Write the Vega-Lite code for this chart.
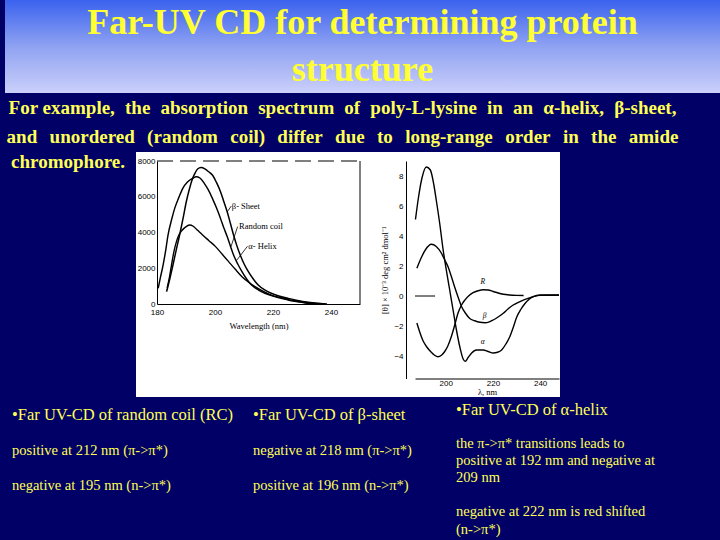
{
  "$schema": "https://vega.github.io/schema/vega-lite/v6.json",
  "background": "#000066",
  "padding": {"left": 5, "top": 0, "right": 0, "bottom": 6},
  "spacing": 0,
  "bounds": "full",
  "config": {
    "view": {"stroke": null},
    "axis": {"grid": false, "domainColor": "black", "domainWidth": 1, "tickColor": "black", "labelColor": "black", "titleColor": "black", "labelFont": "Liberation Sans", "titleFont": "Liberation Serif", "titleFontWeight": "normal", "labelFontSize": 8, "titleFontSize": 8.5, "labelFlush": false, "labelOverlap": false}
  },
  "datasets": {
    "abs": [
      {"s": "Random coil", "wl": 180.4, "v": 880}, {"s": "Random coil", "wl": 181.2, "v": 1500}, {"s": "Random coil", "wl": 182.1, "v": 2180}, {"s": "Random coil", "wl": 183.0, "v": 3000}, {"s": "Random coil", "wl": 183.8, "v": 3860}, {"s": "Random coil", "wl": 185.0, "v": 4700}, {"s": "Random coil", "wl": 186.1, "v": 5350}, {"s": "Random coil", "wl": 187.5, "v": 5950}, {"s": "Random coil", "wl": 188.9, "v": 6470}, {"s": "Random coil", "wl": 190.5, "v": 6820}, {"s": "Random coil", "wl": 192.3, "v": 7030}, {"s": "Random coil", "wl": 193.5, "v": 7120}, {"s": "Random coil", "wl": 194.8, "v": 7050}, {"s": "Random coil", "wl": 196.3, "v": 6750}, {"s": "Random coil", "wl": 197.7, "v": 6380}, {"s": "Random coil", "wl": 199.1, "v": 5910}, {"s": "Random coil", "wl": 200.5, "v": 5380}, {"s": "Random coil", "wl": 201.9, "v": 4790}, {"s": "Random coil", "wl": 203.0, "v": 4280}, {"s": "Random coil", "wl": 204.2, "v": 3770}, {"s": "Random coil", "wl": 205.3, "v": 3250}, {"s": "Random coil", "wl": 206.4, "v": 2740}, {"s": "Random coil", "wl": 207.8, "v": 2250}, {"s": "Random coil", "wl": 209.3, "v": 1810}, {"s": "Random coil", "wl": 210.9, "v": 1400}, {"s": "Random coil", "wl": 212.6, "v": 1060}, {"s": "Random coil", "wl": 215.0, "v": 780}, {"s": "Random coil", "wl": 217.2, "v": 600}, {"s": "Random coil", "wl": 220.0, "v": 440}, {"s": "Random coil", "wl": 222.8, "v": 320}, {"s": "Random coil", "wl": 225.5, "v": 210}, {"s": "Random coil", "wl": 228.5, "v": 130}, {"s": "Random coil", "wl": 231.0, "v": 60}, {"s": "Random coil", "wl": 234.0, "v": 10}, {"s": "Random coil", "wl": 237.0, "v": 0},
      {"s": "β-Sheet", "wl": 183.3, "v": 690}, {"s": "β-Sheet", "wl": 184.4, "v": 1400}, {"s": "β-Sheet", "wl": 185.5, "v": 2180}, {"s": "β-Sheet", "wl": 186.6, "v": 3000}, {"s": "β-Sheet", "wl": 187.8, "v": 3860}, {"s": "β-Sheet", "wl": 189.0, "v": 4800}, {"s": "β-Sheet", "wl": 190.1, "v": 5720}, {"s": "β-Sheet", "wl": 191.2, "v": 6450}, {"s": "β-Sheet", "wl": 192.3, "v": 7030}, {"s": "β-Sheet", "wl": 193.2, "v": 7350}, {"s": "β-Sheet", "wl": 194.0, "v": 7550}, {"s": "β-Sheet", "wl": 195.2, "v": 7630}, {"s": "β-Sheet", "wl": 196.5, "v": 7560}, {"s": "β-Sheet", "wl": 197.8, "v": 7400}, {"s": "β-Sheet", "wl": 199.1, "v": 7220}, {"s": "β-Sheet", "wl": 200.5, "v": 6800}, {"s": "β-Sheet", "wl": 201.9, "v": 6280}, {"s": "β-Sheet", "wl": 203.0, "v": 5750}, {"s": "β-Sheet", "wl": 204.2, "v": 5160}, {"s": "β-Sheet", "wl": 205.3, "v": 4520}, {"s": "β-Sheet", "wl": 206.4, "v": 3860}, {"s": "β-Sheet", "wl": 207.5, "v": 3280}, {"s": "β-Sheet", "wl": 208.7, "v": 2740}, {"s": "β-Sheet", "wl": 210.0, "v": 2250}, {"s": "β-Sheet", "wl": 211.5, "v": 1810}, {"s": "β-Sheet", "wl": 213.2, "v": 1400}, {"s": "β-Sheet", "wl": 214.9, "v": 1060}, {"s": "β-Sheet", "wl": 217.0, "v": 800}, {"s": "β-Sheet", "wl": 219.4, "v": 600}, {"s": "β-Sheet", "wl": 222.0, "v": 450}, {"s": "β-Sheet", "wl": 225.1, "v": 320}, {"s": "β-Sheet", "wl": 228.0, "v": 210}, {"s": "β-Sheet", "wl": 230.7, "v": 130}, {"s": "β-Sheet", "wl": 234.5, "v": 60}, {"s": "β-Sheet", "wl": 238.6, "v": 0},
      {"s": "α-Helix", "wl": 183.5, "v": 900}, {"s": "α-Helix", "wl": 184.3, "v": 1500}, {"s": "α-Helix", "wl": 185.0, "v": 2180}, {"s": "α-Helix", "wl": 185.8, "v": 2900}, {"s": "α-Helix", "wl": 186.7, "v": 3490}, {"s": "α-Helix", "wl": 187.5, "v": 3850}, {"s": "α-Helix", "wl": 188.4, "v": 4080}, {"s": "α-Helix", "wl": 189.3, "v": 4230}, {"s": "α-Helix", "wl": 190.1, "v": 4330}, {"s": "α-Helix", "wl": 191.2, "v": 4420}, {"s": "α-Helix", "wl": 192.5, "v": 4350}, {"s": "α-Helix", "wl": 194.0, "v": 4120}, {"s": "α-Helix", "wl": 195.7, "v": 3860}, {"s": "α-Helix", "wl": 198.0, "v": 3530}, {"s": "α-Helix", "wl": 200.2, "v": 3210}, {"s": "α-Helix", "wl": 202.5, "v": 2780}, {"s": "α-Helix", "wl": 204.7, "v": 2370}, {"s": "α-Helix", "wl": 207.0, "v": 1940}, {"s": "α-Helix", "wl": 209.3, "v": 1530}, {"s": "α-Helix", "wl": 211.5, "v": 1230}, {"s": "α-Helix", "wl": 213.8, "v": 970}, {"s": "α-Helix", "wl": 216.5, "v": 720}, {"s": "α-Helix", "wl": 219.4, "v": 500}, {"s": "α-Helix", "wl": 222.8, "v": 350}, {"s": "α-Helix", "wl": 226.2, "v": 220}, {"s": "α-Helix", "wl": 230.0, "v": 110}, {"s": "α-Helix", "wl": 234.1, "v": 40}, {"s": "α-Helix", "wl": 238.0, "v": 0}
    ],
    "cd": [
      {"s": "α", "wl": 187.2, "th": 5.1}, {"s": "α", "wl": 188.5, "th": 6.6}, {"s": "α", "wl": 190.0, "th": 7.9}, {"s": "α", "wl": 191.8, "th": 8.6}, {"s": "α", "wl": 193.5, "th": 8.4}, {"s": "α", "wl": 195.0, "th": 7.4}, {"s": "α", "wl": 196.0, "th": 6.4}, {"s": "α", "wl": 197.5, "th": 4.8}, {"s": "α", "wl": 198.9, "th": 3.1}, {"s": "α", "wl": 200.3, "th": 1.7}, {"s": "α", "wl": 201.7, "th": 0.4}, {"s": "α", "wl": 203.2, "th": -1.0}, {"s": "α", "wl": 204.6, "th": -2.3}, {"s": "α", "wl": 206.0, "th": -3.4}, {"s": "α", "wl": 207.4, "th": -4.2}, {"s": "α", "wl": 208.3, "th": -4.35}, {"s": "α", "wl": 209.5, "th": -4.1}, {"s": "α", "wl": 211.0, "th": -3.8}, {"s": "α", "wl": 213.0, "th": -3.6}, {"s": "α", "wl": 215.9, "th": -3.6}, {"s": "α", "wl": 218.0, "th": -3.7}, {"s": "α", "wl": 220.1, "th": -3.8}, {"s": "α", "wl": 222.0, "th": -3.75}, {"s": "α", "wl": 223.7, "th": -3.6}, {"s": "α", "wl": 225.5, "th": -3.2}, {"s": "α", "wl": 227.2, "th": -2.7}, {"s": "α", "wl": 228.6, "th": -2.1}, {"s": "α", "wl": 230.1, "th": -1.4}, {"s": "α", "wl": 231.8, "th": -0.9}, {"s": "α", "wl": 233.6, "th": -0.5}, {"s": "α", "wl": 235.5, "th": -0.2}, {"s": "α", "wl": 237.1, "th": -0.04}, {"s": "α", "wl": 240.0, "th": 0.07}, {"s": "α", "wl": 244.0, "th": 0.07}, {"s": "α", "wl": 248.0, "th": 0.07},
      {"s": "β", "wl": 187.8, "th": 1.85}, {"s": "β", "wl": 189.5, "th": 2.5}, {"s": "β", "wl": 191.5, "th": 3.1}, {"s": "β", "wl": 193.9, "th": 3.45}, {"s": "β", "wl": 196.0, "th": 3.3}, {"s": "β", "wl": 198.2, "th": 2.85}, {"s": "β", "wl": 199.6, "th": 2.4}, {"s": "β", "wl": 201.0, "th": 1.95}, {"s": "β", "wl": 202.4, "th": 1.3}, {"s": "β", "wl": 203.8, "th": 0.6}, {"s": "β", "wl": 205.2, "th": -0.05}, {"s": "β", "wl": 206.7, "th": -0.7}, {"s": "β", "wl": 208.4, "th": -1.15}, {"s": "β", "wl": 210.2, "th": -1.5}, {"s": "β", "wl": 212.3, "th": -1.65}, {"s": "β", "wl": 214.5, "th": -1.75}, {"s": "β", "wl": 216.6, "th": -1.78}, {"s": "β", "wl": 218.5, "th": -1.72}, {"s": "β", "wl": 220.1, "th": -1.6}, {"s": "β", "wl": 222.2, "th": -1.4}, {"s": "β", "wl": 224.4, "th": -1.15}, {"s": "β", "wl": 226.5, "th": -0.85}, {"s": "β", "wl": 228.6, "th": -0.6}, {"s": "β", "wl": 230.8, "th": -0.42}, {"s": "β", "wl": 232.9, "th": -0.27}, {"s": "β", "wl": 235.0, "th": -0.15}, {"s": "β", "wl": 237.1, "th": -0.04}, {"s": "β", "wl": 240.0, "th": 0.04}, {"s": "β", "wl": 244.0, "th": 0.05}, {"s": "β", "wl": 248.0, "th": 0.05},
      {"s": "R", "wl": 187.8, "th": -1.8}, {"s": "R", "wl": 189.0, "th": -2.4}, {"s": "R", "wl": 190.3, "th": -2.95}, {"s": "R", "wl": 192.0, "th": -3.4}, {"s": "R", "wl": 193.9, "th": -3.75}, {"s": "R", "wl": 195.3, "th": -3.95}, {"s": "R", "wl": 196.7, "th": -4.05}, {"s": "R", "wl": 198.2, "th": -3.95}, {"s": "R", "wl": 199.6, "th": -3.7}, {"s": "R", "wl": 201.0, "th": -3.3}, {"s": "R", "wl": 202.4, "th": -2.7}, {"s": "R", "wl": 203.8, "th": -1.95}, {"s": "R", "wl": 205.2, "th": -1.15}, {"s": "R", "wl": 206.7, "th": -0.6}, {"s": "R", "wl": 208.1, "th": -0.27}, {"s": "R", "wl": 209.8, "th": 0.02}, {"s": "R", "wl": 211.6, "th": 0.22}, {"s": "R", "wl": 213.7, "th": 0.35}, {"s": "R", "wl": 215.9, "th": 0.42}, {"s": "R", "wl": 218.0, "th": 0.4}, {"s": "R", "wl": 220.1, "th": 0.3}, {"s": "R", "wl": 222.2, "th": 0.2}, {"s": "R", "wl": 224.4, "th": 0.12}, {"s": "R", "wl": 227.0, "th": 0.07}, {"s": "R", "wl": 230.1, "th": 0.04}, {"s": "R", "wl": 233.0, "th": 0.03}
    ]
  },
  "vconcat": [
    {
      "width": 715,
      "height": 93,
      "data": {"values": [{"line": 1, "t": "Far-UV CD for determining protein"}, {"line": 2, "t": "structure"}]},
      "layer": [
        {"mark": {"type": "rect", "fill": {"gradient": "linear", "x1": 0, "y1": 0, "x2": 0, "y2": 1, "stops": [{"offset": 0, "color": "#3a62ee"}, {"offset": 0.5, "color": "#8fa2f2"}, {"offset": 1, "color": "#cbd0fa"}]}}, "encoding": {}},
        {"mark": {"type": "text", "font": "Liberation Serif", "fontWeight": "bold", "fontSize": 36, "color": "#ffff33", "baseline": "middle"}, "encoding": {"y": {"field": "line", "type": "ordinal", "scale": {"type": "point", "padding": 0.5}, "axis": null}, "text": {"field": "t"}}}
      ]
    },
    {
      "width": 675,
      "height": 59,
      "data": {"values": [{"line": 1, "t": "For example,\u2009\u200a the\u2009\u200a absorption\u2009\u200a spectrum\u2009\u200a of\u2009\u200a poly-L-lysine\u2009\u200a in\u2009\u200a an\u2009\u200a α-helix,\u2009\u200a β-sheet,"}, {"line": 2, "t": "and\u2009\u2009 unordered\u2009\u2009 (random\u2009\u2009 coil)\u2009\u2009 differ\u2009\u2009 due\u2009\u2009 to\u2009\u2009 long-range\u2009\u2009 order\u2009\u2009 in\u2009\u2009 the\u2009\u2009 amide"}]},
      "mark": {"type": "text", "font": "Liberation Serif", "fontWeight": "bold", "fontSize": 19, "color": "#ffff55", "baseline": "middle"},
      "encoding": {"y": {"field": "line", "type": "ordinal", "scale": {"type": "point", "padding": 0.5}, "axis": null}, "text": {"field": "t"}}
    },
    {
      "hconcat": [
        {
          "width": 126,
          "height": 20,
          "data": {"values": [{"t": "chromophore."}]},
          "mark": {"type": "text", "font": "Liberation Serif", "fontWeight": "bold", "fontSize": 19, "color": "#ffff55", "baseline": "middle"},
          "encoding": {"text": {"field": "t"}}
        },
        {
          "width": 424,
          "height": 245,
          "resolve": {"scale": {"x": "independent", "y": "independent"}, "axis": {"x": "independent", "y": "independent"}},
          "layer": [
            {"data": {"values": [{}]}, "mark": {"type": "rect", "fill": "white"}, "encoding": {}},
            {
              "encoding": {
                "x": {"field": "wl", "type": "quantitative", "title": "Wavelength (nm)", "scale": {"domain": [180, 250], "range": [21, 224], "nice": false, "zero": false}, "axis": {"zindex": 2, "orient": "bottom", "offset": -93, "values": [180, 200, 220, 240], "ticks": false, "labelPadding": 4, "titlePadding": 5}},
                "y": {"field": "v", "type": "quantitative", "title": null, "scale": {"domain": [0, 8000], "range": [152, 9], "nice": false, "zero": false}, "axis": {"zindex": 2, "orient": "left", "offset": -21, "values": [0, 2000, 4000, 6000, 8000], "format": "d", "ticks": false, "labelPadding": 2}}
              },
              "layer": [
                {"data": {"name": "abs"}, "mark": {"type": "line", "color": "black", "interpolate": "monotone"}, "encoding": {"detail": {"field": "s"}, "strokeWidth": {"field": "s", "type": "nominal", "scale": {"domain": ["β-Sheet", "Random coil", "α-Helix"], "range": [1.5, 1.4, 0.9]}, "legend": null}}},
                {"data": {"values": [{"wl": 180, "wl2": 250, "v": 8000}]}, "mark": {"type": "rule", "color": "black", "strokeDash": [16, 7]}, "encoding": {"x2": {"field": "wl2"}}},
                {"data": {"values": [{"wl": 250, "v": 0, "v2": 8000}]}, "mark": {"type": "rule", "color": "black"}, "encoding": {"y2": {"field": "v2"}}},
                {"data": {"values": [{"wl": 204.2, "v": 5150, "wl2": 205.6, "v2": 5480}, {"wl": 205.5, "v": 3200, "wl2": 207.8, "v2": 4330}, {"wl": 207.4, "v": 2430, "wl2": 211.2, "v2": 3230}]}, "mark": {"type": "rule", "color": "black", "strokeWidth": 0.8}, "encoding": {"x2": {"field": "wl2"}, "y2": {"field": "v2"}}},
                {"data": {"values": [{"wl": 205.8, "v": 5500, "lab": "β- Sheet"}, {"wl": 208.3, "v": 4380, "lab": "Random coil"}, {"wl": 211.5, "v": 3230, "lab": "α- Helix"}]}, "mark": {"type": "text", "align": "left", "baseline": "middle", "font": "Liberation Serif", "fontSize": 8.5, "color": "black"}, "encoding": {"text": {"field": "lab"}}}
              ]
            },
            {
              "encoding": {
                "x": {"field": "wl", "type": "quantitative", "title": "λ, nm", "scale": {"domain": [187, 248], "range": [279, 423], "nice": false, "zero": false}, "axis": {"zindex": 2, "orient": "bottom", "offset": -18.5, "values": [200, 220, 240], "ticks": false, "labelPadding": 1, "titlePadding": 0}},
                "y": {"field": "th", "type": "quantitative", "title": "[θ] × 10⁻³ deg cm² dmol⁻¹", "scale": {"domain": [-5.5, 9], "range": [226.5, 9], "nice": false, "zero": false}, "axis": {"zindex": 2, "orient": "left", "offset": -270, "values": [-4, -2, 0, 2, 4, 6, 8], "ticks": false, "labelPadding": 3, "titlePadding": 4}}
              },
              "layer": [
                {"data": {"name": "cd"}, "mark": {"type": "line", "color": "black", "strokeWidth": 1.4, "interpolate": "monotone"}, "encoding": {"detail": {"field": "s"}}},
                {"data": {"values": [{"wl": 187, "wl2": 195.5, "th": 0}]}, "mark": {"type": "rule", "color": "black"}, "encoding": {"x2": {"field": "wl2"}}},
                {"data": {"values": [{"wl": 215.7, "th": 0.95, "lab": "R"}, {"wl": 216.5, "th": -1.3, "lab": "β"}, {"wl": 215.7, "th": -3.05, "lab": "α"}]}, "mark": {"type": "text", "font": "Liberation Serif", "fontStyle": "italic", "fontSize": 7.5, "color": "black"}, "encoding": {"text": {"field": "lab"}}}
              ]
            }
          ]
        }
      ],
      "spacing": 5,
      "bounds": "flush"
    },
    {
      "hconcat": [
        {
          "width": 248, "height": 1,
          "data": {"values": [{}]}, "mark": {"type": "rect", "opacity": 0}, "encoding": {},
          "title": {"text": "•Far UV-CD of random coil (RC)", "subtitle": ["positive at 212 nm (π->π*)", "negative at 195 nm (n->π*)"], "orient": "bottom", "anchor": "start", "frame": "group", "dx": 7, "offset": 9, "font": "Liberation Serif", "fontSize": 16.5, "fontWeight": "normal", "color": "#ffff55", "subtitleFont": "Liberation Serif", "subtitleFontSize": 14.5, "subtitleColor": "#ffff55", "subtitleLineHeight": 35, "subtitlePadding": 20}
        },
        {
          "width": 203, "height": 1,
          "data": {"values": [{}]}, "mark": {"type": "rect", "opacity": 0}, "encoding": {},
          "title": {"text": "•Far UV-CD of β-sheet", "subtitle": ["negative at 218 nm (π->π*)", "positive at 196 nm (n->π*)"], "orient": "bottom", "anchor": "start", "frame": "group", "offset": 9, "font": "Liberation Serif", "fontSize": 16.5, "fontWeight": "normal", "color": "#ffff55", "subtitleFont": "Liberation Serif", "subtitleFontSize": 14.5, "subtitleColor": "#ffff55", "subtitleLineHeight": 35, "subtitlePadding": 20}
        },
        {
          "width": 264, "height": 1,
          "data": {"values": [{}]}, "mark": {"type": "rect", "opacity": 0}, "encoding": {},
          "title": {"text": "•Far UV-CD of α-helix", "subtitle": ["the π->π* transitions leads to", "positive at 192 nm and negative at", "209 nm", "\u200b", "negative at 222 nm is red shifted", "(n->π*)"], "orient": "bottom", "anchor": "start", "frame": "group", "offset": 4, "font": "Liberation Serif", "fontSize": 16.5, "fontWeight": "normal", "color": "#ffff55", "subtitleFont": "Liberation Serif", "subtitleFontSize": 14.5, "subtitleColor": "#ffff55", "subtitleLineHeight": 17.2, "subtitlePadding": 18}
        }
      ],
      "spacing": 0,
      "bounds": "flush"
    }
  ]
}
